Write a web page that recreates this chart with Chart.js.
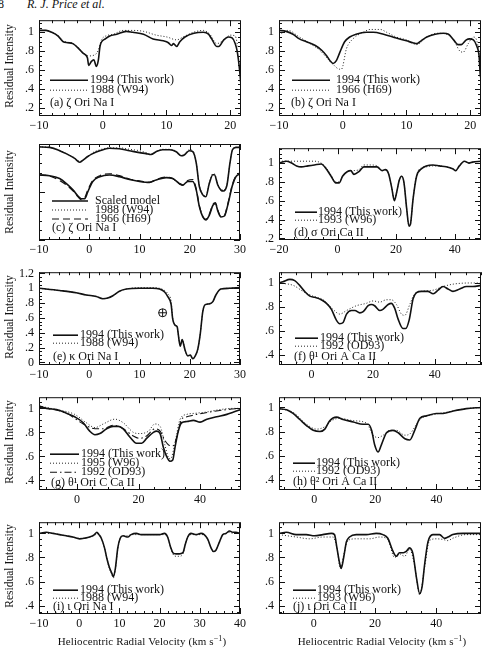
<!DOCTYPE html>
<html>
<head>
<meta charset="utf-8">
<script src="https://cdn.jsdelivr.net/npm/chart.js@4.4.0/dist/chart.umd.min.js"></script>
<style>
  body { margin: 0; width: 486px; height: 649px; overflow: hidden; position: relative; background: #fff;
         font-family: "Liberation Serif", serif; color: #111; }
  canvas { position: absolute; }
  .ytitle { position: absolute; width: 120px; height: 14px; line-height: 14px; font-size: 11.5px;
            text-align: center; white-space: nowrap; transform: rotate(-90deg); }
  .xtitle { position: absolute; width: 220px; height: 14px; line-height: 14px; font-size: 11px;
            text-align: center; white-space: nowrap; letter-spacing: 0.1px; }
  .xtitle sup { font-size: 8px; vertical-align: 4px; line-height: 0; }
  .hdr { position: absolute; top: -3px; font-size: 12px; line-height: 14px; white-space: nowrap; }
</style>
</head>
<body>
<div class="hdr" style="left:-8px">68</div>
<div class="hdr" style="left:27px"><i>R. J. Price et al.</i></div>
<script>
// ---- tick labels ----
const xTicksA = [-10, 0, 10, 20];
const xTicksC = [-10, 0, 10, 20, 30];
const xTicksD = [-20, 0, 20, 40];
const xTicksF = [0, 20, 40];
const xTicksI = [-10, 0, 10, 20, 30, 40];
const yTicksA = [0.2, 0.4, 0.6, 0.8, 1];
const yTicksE = [0, 0.2, 0.4, 0.6, 0.8, 1, 1.2];
const yTicksF = [0.4, 0.6, 0.8, 1];

// ---- (a) zeta Ori Na I ----
const velA94 = [-10.1,-8.9,-8.0,-7.0,-6.2,-5.5,-4.7,-3.8,-3.1,-2.4,-2.2,-1.8,-1.4,-1.0,-0.7,-0.4,0.4,1.1,2.2,3.7,4.7,6.4,7.9,9.5,10.3,10.8,11.1,11.6,12.1,12.9,14.3,15.8,16.6,17.1,17.9,18.2,19.0,19.7,20.3,20.8,21.1,21.4,21.7];
const intA94 = [1.02,1.02,1.0,0.96,0.90,0.89,0.88,0.83,0.78,0.73,0.65,0.69,0.71,0.64,0.70,0.86,0.93,0.96,0.98,1.01,1.0,0.98,0.93,0.91,0.89,0.86,0.88,0.85,0.90,0.95,0.99,1.0,0.98,0.93,0.85,0.85,0.92,0.95,0.94,0.88,0.80,0.65,0.44];
const velA88 = [-10.1,-8.9,-8.0,-7.0,-6.2,-5.5,-4.7,-3.8,-3.1,-2.3,-1.3,-0.7,-0.2,0.45,1.7,3.2,4.7,6.4,8.4,10.1,11.6,12.6,14.2,15.8,16.8,17.9,19.0,20.0,20.8,21.2];
const intA88 = [1.02,1.02,1.0,0.965,0.91,0.895,0.885,0.835,0.79,0.75,0.76,0.81,0.92,0.96,0.98,1.02,1.02,1.01,0.97,0.95,0.92,0.95,1.0,1.02,0.98,0.88,0.92,0.97,0.96,0.85];

// ---- (b) zeta Ori Na I vs H69 ----
const velB94 = [-10.0,-8.9,-7.8,-6.8,-5.7,-4.3,-3.3,-2.5,-2.0,-1.5,-1.0,-0.5,0.3,1.1,2.1,3.7,4.8,6.4,8.4,10.0,11.0,11.6,12.3,13.2,14.5,15.8,16.6,17.4,18.1,18.6,19.4,19.9,20.5,21.0,21.4,21.6,21.9];
const intB94 = [1.02,1.01,0.98,0.93,0.9,0.86,0.81,0.75,0.70,0.67,0.70,0.78,0.90,0.95,0.98,1.0,1.0,0.98,0.94,0.91,0.89,0.88,0.91,0.95,0.98,0.99,0.98,0.92,0.87,0.87,0.92,0.93,0.92,0.86,0.75,0.54,0.49];
const velB66 = [-10.0,-8.6,-6.8,-5.1,-3.6,-2.5,-1.5,-0.5,-0.2,0.6,1.6,3.2,4.3,5.9,6.9,8.4,10.0,11.6,13.2,14.8,16.3,17.4,18.4,18.9,19.7,20.5,21.0,21.4,21.9];
const intB66 = [0.97,1.02,0.95,0.88,0.81,0.73,0.66,0.61,0.61,0.83,0.93,1.0,1.03,1.03,1.0,0.95,0.92,0.87,0.95,0.99,0.98,0.92,0.80,0.79,0.88,0.95,0.92,0.78,0.48];

// ---- (c) scaled model, two offset sets (arbitrary units) ----
const velCUp = [-10,-7.9,-5.9,-4.6,-2.9,-1.9,-1.3,-0.3,0.7,2.1,4,6,8,10,11.3,12.3,13.3,14.6,16,17.3,18.3,18.9,19.9,20.6,21.3,21.9,22.6,23.2,23.9,24.6,24.9,25.6,26.2,26.7,27.4,28,28.5,29.2,30];
const modelCUp = [0.97,0.965,0.93,0.90,0.85,0.81,0.83,0.87,0.90,0.93,0.955,0.95,0.93,0.91,0.90,0.89,0.92,0.94,0.94,0.92,0.877,0.885,0.93,0.92,0.80,0.56,0.47,0.45,0.59,0.68,0.68,0.57,0.52,0.51,0.57,0.80,0.94,0.965,0.965];
const w94CUp = [0.97,0.965,0.935,0.90,0.855,0.82,0.83,0.87,0.91,0.94,0.96,0.96,0.945,0.93,0.91,0.895,0.92,0.945,0.945,0.925,0.88,0.89,0.94,0.93,0.80,0.57,0.48,0.46,0.60,0.69,0.69,0.58,0.53,0.52,0.58,0.80,0.94,0.965,0.965];
const velCLow = [-10,-7.9,-5.9,-4.6,-3.2,-2.3,-1.6,-0.9,-0.3,0.7,2.1,4,6,8,10,12,13.3,15.3,16.6,17.9,18.6,19.6,20.6,21.3,21.9,22.6,23.2,23.9,24.6,25.1,25.6,26.2,26.9,27.5,28.5,29.2,30];
const modelCLow = [0.677,0.67,0.64,0.59,0.52,0.46,0.43,0.43,0.50,0.61,0.66,0.677,0.66,0.63,0.61,0.60,0.625,0.65,0.64,0.59,0.573,0.61,0.61,0.52,0.35,0.24,0.21,0.26,0.36,0.38,0.30,0.24,0.25,0.35,0.57,0.66,0.69];
const h69CLow = [0.68,0.665,0.62,0.575,0.51,0.455,0.42,0.44,0.52,0.62,0.67,0.69,0.67,0.635,0.615,0.60,0.63,0.655,0.64,0.585,0.57,0.62,0.63,0.53,0.36,0.245,0.215,0.27,0.37,0.39,0.31,0.245,0.255,0.36,0.58,0.67,0.70];

// ---- (d) sigma Ori Ca II ----
const velD94 = [-20,-17.4,-15.7,-14,-12.4,-10.1,-7.9,-5.6,-3.9,-2.2,-0.6,0.6,1.7,3.4,4.5,5.6,7.3,9,11.2,13.5,15.2,16.3,17.4,18.5,19.4,20.2,21.1,21.9,22.7,23.6,24.4,24.9,25.8,27,28.7,30.3,32.6,34.8,37.1,39.3,40.4,41.6,43.3,44.9,46.1,49];
const intD94 = [1.0,1.02,1.0,0.97,0.96,0.97,0.98,0.99,0.94,0.86,0.79,0.79,0.86,0.91,0.92,0.88,0.91,0.96,0.96,0.96,0.92,0.93,0.89,0.74,0.60,0.69,0.82,0.86,0.79,0.52,0.33,0.35,0.62,0.86,0.94,0.97,0.98,0.97,0.96,0.94,0.92,0.97,1.02,1.0,1.01,1.02];
const velD93 = [-20,-16,-12,-8,-5.6,-3.9,-2.2,-0.6,0.6,1.7,3.4,5.6,7.3,9,11.2,13.5,15.2,16.3,17.4,18.5,19.4,20.2,21.1,21.9,22.7,23.6,24.4,24.9,25.8,27,28.7,30.3,32.6,34.8,37.1,39.3,40.4,41.6,43.3,44.9,46.1,49];
const intD93 = [1.02,1.02,1.02,1.02,1.0,0.95,0.87,0.80,0.80,0.86,0.91,0.92,0.93,0.98,0.98,0.97,0.92,0.93,0.89,0.74,0.61,0.69,0.82,0.86,0.79,0.52,0.33,0.35,0.62,0.87,0.95,0.96,0.97,0.97,0.96,0.94,0.92,0.97,1.02,1.0,1.01,1.02];

// ---- (e) kappa Ori Na I ----
const velE = [-10,-5.9,-2.6,-0.6,1.4,2.7,3.7,4.7,6,7.4,10,12.6,14,15,15.6,16.3,16.6,17.1,17.5,17.7,18.1,18.5,18.7,19.1,19.6,20.1,20.6,21.1,21.6,22.1,22.6,23.1,23.9,24.6,25.2,26.2,27.9,30];
const intE94 = [1.0,0.97,0.94,0.91,0.89,0.86,0.87,0.90,0.96,0.99,1.0,1.0,0.99,0.95,0.89,0.78,0.59,0.50,0.48,0.39,0.22,0.31,0.27,0.16,0.09,0.10,0.05,0.09,0.18,0.39,0.69,0.78,0.79,0.82,0.91,0.99,1.0,1.01];
const intE88 = [1.0,0.97,0.94,0.91,0.89,0.86,0.87,0.90,0.96,0.99,1.01,1.01,1.0,0.97,0.93,0.82,0.60,0.51,0.48,0.39,0.22,0.31,0.27,0.16,0.09,0.10,0.05,0.09,0.18,0.39,0.69,0.78,0.79,0.82,0.91,0.99,1.0,1.01];
const earthVel = [14.6];
const earthInt = [0.67];

// ---- (f) theta1 Ori A Ca II ----
const velF94 = [-10.5,-9.2,-7,-5.4,-3.8,-2.2,-0.5,1.1,3.2,4.9,6.5,8.1,9.2,10.3,11.4,13,14.1,15.7,16.8,18.4,19.5,20.5,22.2,23.2,24.9,25.9,27,28.1,29.7,30.6,31.7,33,34.1,35.7,37.8,39.5,41.1,42.7,44.3,45.9,48.1,50.3,52.4,55];
const intF94 = [1.0,1.01,1.03,1.02,0.98,0.93,0.89,0.88,0.86,0.83,0.78,0.69,0.66,0.67,0.74,0.77,0.77,0.75,0.76,0.81,0.82,0.81,0.77,0.78,0.82,0.83,0.79,0.70,0.62,0.62,0.69,0.87,0.92,0.93,0.93,0.91,0.94,0.97,0.95,0.93,0.95,0.97,0.97,0.98];
const velF92 = [-10.5,-5.9,-2.7,0.5,3.8,7,9.2,11.4,14.6,17.8,20,22.2,24.3,25.9,27.6,29.2,30.3,31.9,33.5,35.7,39.5,42.7,45.9,51.4,55];
const intF92 = [1.0,0.98,0.93,0.89,0.86,0.78,0.74,0.77,0.81,0.83,0.85,0.84,0.86,0.86,0.82,0.74,0.73,0.82,0.91,0.93,0.94,0.97,0.99,1.0,1.0];

// ---- (g) theta1 Ori C Ca II ----
const velG94 = [-12.4,-10,-6.7,-3.5,-0.8,2,4.1,5.8,7.4,9.6,11.7,13.4,15,17.2,19.3,21,22.6,24.8,25.9,27,28,29.1,30.2,31.1,31.8,32.9,34,35.7,37.8,40,42.2,45.4,48.7,50.9,53.3];
const intG94 = [1.02,1.0,0.99,0.96,0.93,0.88,0.81,0.78,0.79,0.83,0.85,0.85,0.83,0.76,0.71,0.71,0.75,0.80,0.81,0.79,0.68,0.60,0.56,0.57,0.67,0.81,0.88,0.89,0.90,0.885,0.91,0.93,0.95,0.97,0.99];
const velG95 = [-12.4,-6.7,-0.8,3,5.8,8.5,12.3,15,18.3,20.4,23.2,25.3,27,28.6,29.7,30.4,31.8,33.5,35.7,38.9,42.2,46.5,50.9,53.3];
const intG95 = [1.02,0.99,0.95,0.88,0.84,0.87,0.91,0.88,0.80,0.79,0.81,0.87,0.85,0.69,0.59,0.58,0.71,0.91,0.95,0.96,0.97,0.99,1.0,1.0];
const velG92 = [-12.4,-3.5,2,5.8,8.5,11.7,15,18.3,20.4,22.6,25.3,27,28.6,30.2,31.3,32.4,34,35.7,38.9,43.3,48.7,53.3];
const intG92 = [1.01,0.96,0.87,0.83,0.83,0.86,0.83,0.77,0.75,0.77,0.83,0.81,0.73,0.69,0.69,0.76,0.91,0.93,0.95,0.97,0.99,1.0];

// ---- (h) theta2 Ori A Ca II ----
const velH94 = [-11.5,-9,-6.9,-4.7,-2.5,-0.3,1.9,3.5,5.1,7.3,9.5,12.8,16,17.7,18.8,19.8,20.9,22,23.7,25.8,27.5,29.7,31.3,32.9,34.6,36.7,40,42.2,45.5,49.8,54.6];
const intH94 = [0.99,0.98,0.95,0.90,0.85,0.81,0.80,0.82,0.89,0.92,0.90,0.88,0.86,0.86,0.81,0.69,0.63,0.69,0.79,0.81,0.79,0.74,0.73,0.81,0.91,0.93,0.95,0.95,0.97,0.99,1.0];
const velH92 = [-11.5,-6.9,-2.5,0.8,3.5,5.7,8.4,12.8,17.1,19.3,20.9,22.6,24.8,26.9,29.7,31.3,33.5,35.1,38.9,43.3,49.8,54.6];
const intH92 = [0.99,0.96,0.86,0.82,0.84,0.89,0.91,0.89,0.87,0.77,0.75,0.77,0.81,0.81,0.77,0.78,0.86,0.91,0.94,0.96,0.99,1.0];

// ---- (i) iota Ori Na I ----
const velI = [-10,-8.2,-6.5,-4.9,-3.2,-1.6,0.1,1.3,2.6,3.8,4.4,4.9,5.5,6.3,6.9,7.5,8.1,8.5,9,9.6,10.2,10.9,12.1,12.9,14.2,15.4,16.7,18.3,20,21.2,22,22.7,23.3,24.1,24.9,25.8,26.4,27,27.8,29.1,30.3,31.1,32,32.8,33.4,34,34.9,35.7,36.5,37.4,38.2,39,40];
const intI94 = [1.0,1.01,1.0,0.99,0.98,0.97,0.955,0.96,0.97,0.99,1.01,0.99,0.96,0.88,0.79,0.72,0.67,0.64,0.71,0.88,0.96,0.98,0.97,0.99,1.0,0.99,0.99,0.99,0.99,1.0,0.97,0.89,0.84,0.83,0.83,0.84,0.91,0.97,1.0,0.99,1.0,0.99,0.95,0.88,0.85,0.86,0.93,0.99,1.0,1.02,1.01,1.01,1.0];
const intI88 = [1.0,1.0,1.0,0.99,0.98,0.97,0.96,0.96,0.97,0.98,1.0,0.99,0.96,0.88,0.79,0.71,0.66,0.63,0.70,0.87,0.96,0.98,0.98,0.99,0.99,0.99,0.99,0.99,0.99,0.99,0.97,0.89,0.83,0.81,0.81,0.83,0.91,0.97,0.99,0.99,0.99,0.99,0.95,0.88,0.85,0.86,0.93,0.99,1.0,1.01,1.0,1.0,1.0];

// ---- (j) iota Ori Ca II ----
const velJ94 = [-11.3,-8.9,-5.7,-2.4,0.3,3,5.8,6.8,7.6,8.5,9,9.8,10.7,11.7,13.9,17.2,20.4,22.6,24.2,25.9,27,28,29.3,30.2,31.3,32.4,33.5,34.6,35.4,36.2,37.3,38.9,41.1,42.7,43.8,45.4,48.7,52,54.6];
const intJ94 = [1.0,1.01,0.99,0.99,0.98,0.99,1.0,0.99,0.88,0.75,0.71,0.80,0.93,0.97,0.99,0.99,1.0,0.99,0.96,0.85,0.81,0.84,0.84,0.85,0.88,0.83,0.64,0.50,0.56,0.74,0.93,0.99,0.99,0.96,0.97,0.99,1.0,1.0,1.0];
const velJ93 = [-11.3,-5.7,-1.3,3,6.3,7.6,8.7,9.8,11.1,13.9,18.3,21.5,24.2,26.4,28,29.7,31.3,32.9,34.6,36.2,37.8,40,42.2,43.8,45.4,49.8,54.6];
const intJ93 = [0.99,0.97,0.955,0.97,0.97,0.88,0.71,0.82,0.94,0.955,0.955,0.97,0.95,0.80,0.83,0.81,0.87,0.74,0.49,0.72,0.94,0.955,0.95,0.94,0.96,0.99,0.99];

// ---- layout ----
const CW = 202, PADL = 36, PADT = 8, PADR = 8, PADB = 22;
const colLeft = [39, 279];
const rowTop = [16, 144, 268, 393, 518];
const rowH = [100, 96, 97, 97, 96];

const lineStyles = {
  solid:   { dash: [], width: 1.6, color: '#111' },
  dot:     { dash: [1, 2], width: 1, color: '#222' },
  dash:    { dash: [7, 4], width: 1.2, color: '#111' },
  dashdot: { dash: [7, 3, 1.5, 3], width: 1.1, color: '#111' },
};

const panels = [
  { col: 0, row: 0, x: [-10, 21.7], y: [0.115, 1.128], xt: xTicksA, yt: yTicksA, tk: [10, 2, 0.2, 0.05],
    series: [{ vel: velA94, val: intA94, style: 'solid' }, { vel: velA88, val: intA88, style: 'dot' }],
    key: { x0: 11, x1: 49, tx: 51, rows: [{ y: 60, style: 'solid', text: '1994 (This work)' }, { y: 70, style: 'dot', text: '1988 (W94)' }], lx: 11, ly: 83, label: '(a) ζ Ori Na I' } },
  { col: 1, row: 0, x: [-10, 21.7], y: [0.115, 1.128], xt: xTicksA, yt: yTicksA, tk: [10, 2, 0.2, 0.05],
    series: [{ vel: velB94, val: intB94, style: 'solid' }, { vel: velB66, val: intB66, style: 'dot' }],
    key: { x0: 13, x1: 51, tx: 57, rows: [{ y: 60, style: 'solid', text: '1994 (This work)' }, { y: 70, style: 'dot', text: '1966 (H69)' }], lx: 12, ly: 83, label: '(b) ζ Ori Na I' } },
  { col: 0, row: 1, x: [-10, 30], y: [0, 1], xt: xTicksC, yt: [], tk: [10, 2, 0.5, 0.1],
    series: [{ vel: velCUp, val: modelCUp, style: 'solid' }, { vel: velCUp, val: w94CUp, style: 'dot' },
             { vel: velCLow, val: modelCLow, style: 'solid' }, { vel: velCLow, val: h69CLow, style: 'dash' }],
    key: { x0: 13, x1: 49, tx: 56, rows: [{ y: 57, style: 'solid', text: 'Scaled model' }, { y: 66, style: 'dot', text: '1988 (W94)' }, { y: 75, style: 'dash', text: '1966 (H69)' }], lx: 13, ly: 84, label: '(c) ζ Ori Na I' } },
  { col: 1, row: 1, x: [-20, 49], y: [0.183, 1.158], xt: xTicksD, yt: yTicksA, tk: [20, 5, 0.2, 0.05],
    series: [{ vel: velD94, val: intD94, style: 'solid' }, { vel: velD93, val: intD93, style: 'dot' }],
    key: { x0: 16, x1: 38, tx: 39, rows: [{ y: 64, style: 'solid', text: '1994 (This work)' }, { y: 72, style: 'dot', text: '1993 (W96)' }], lx: 15, ly: 85, label: '(d) σ Ori Ca II' } },
  { col: 0, row: 2, x: [-10, 30], y: [-0.034, 1.217], xt: xTicksC, yt: yTicksE, tk: [10, 2, 0.2, 0.05],
    series: [{ vel: velE, val: intE94, style: 'solid' }, { vel: velE, val: intE88, style: 'dot' }],
    marker: { vel: earthVel, val: earthInt },
    key: { x0: 14, x1: 39, tx: 41, rows: [{ y: 63, style: 'solid', text: '1994 (This work)' }, { y: 71, style: 'dot', text: '1988 (W94)' }], lx: 14, ly: 85, label: '(e) κ Ori Na I' } },
  { col: 1, row: 2, x: [-10.5, 55], y: [0.315, 1.09], xt: xTicksF, yt: yTicksF, tk: [20, 5, 0.2, 0.05],
    series: [{ vel: velF94, val: intF94, style: 'solid' }, { vel: velF92, val: intF92, style: 'dot' }],
    key: { x0: 16, x1: 39, tx: 41, rows: [{ y: 66, style: 'solid', text: '1994 (This work)' }, { y: 74, style: 'dot', text: '1992 (OD93)' }], lx: 15, ly: 85, label: '(f) θ¹ Ori A Ca II' } },
  { col: 0, row: 3, x: [-12.4, 53.3], y: [0.32, 1.093], xt: xTicksF, yt: yTicksF, tk: [20, 5, 0.2, 0.05],
    series: [{ vel: velG94, val: intG94, style: 'solid' }, { vel: velG95, val: intG95, style: 'dot' }, { vel: velG92, val: intG92, style: 'dashdot' }],
    key: { x0: 11, x1: 40, tx: 42, rows: [{ y: 57, style: 'solid', text: '1994 (This work)' }, { y: 66, style: 'dot', text: '1995 (W96)' }, { y: 75, style: 'dashdot', text: '1992 (OD93)' }], lx: 12, ly: 86, label: '(g) θ¹ Ori C Ca II' } },
  { col: 1, row: 3, x: [-11.5, 54.6], y: [0.315, 1.085], xt: xTicksF, yt: yTicksF, tk: [20, 5, 0.2, 0.05],
    series: [{ vel: velH94, val: intH94, style: 'solid' }, { vel: velH92, val: intH92, style: 'dot' }],
    key: { x0: 14, x1: 36, tx: 37, rows: [{ y: 66, style: 'solid', text: '1994 (This work)' }, { y: 74, style: 'dot', text: '1992 (OD93)' }], lx: 14, ly: 85, label: '(h) θ² Ori A Ca II' } },
  { col: 0, row: 4, x: [-10, 40], y: [0.331, 1.093], xt: xTicksI, yt: yTicksF, tk: [10, 2, 0.2, 0.05],
    series: [{ vel: velI, val: intI94, style: 'solid' }, { vel: velI, val: intI88, style: 'dot' }],
    key: { x0: 14, x1: 39, tx: 41, rows: [{ y: 68, style: 'solid', text: '1994 (This work)' }, { y: 76, style: 'dot', text: '1988 (W94)' }], lx: 14, ly: 85, label: '(i) ι Ori Na I' } },
  { col: 1, row: 4, x: [-11.3, 54.6], y: [0.331, 1.093], xt: xTicksF, yt: yTicksF, tk: [20, 5, 0.2, 0.05],
    series: [{ vel: velJ94, val: intJ94, style: 'solid' }, { vel: velJ93, val: intJ93, style: 'dot' }],
    key: { x0: 14, x1: 37, tx: 38, rows: [{ y: 68, style: 'solid', text: '1994 (This work)' }, { y: 76, style: 'dot', text: '1993 (W96)' }], lx: 14, ly: 85, label: '(j) ι Ori Ca II' } },
];

Chart.defaults.font.family = '"Liberation Serif", serif';
Chart.defaults.font.size = 12;
Chart.defaults.color = '#111';

// box + inward ticks on all four sides
const framePlugin = {
  id: 'frame',
  afterDatasetsDraw(chart, args, opts) {
    const { ctx, chartArea: a, scales } = chart;
    const [xMaj, xMin, yMaj, yMin] = opts.tk;
    ctx.save();
    ctx.strokeStyle = '#111';
    ctx.lineWidth = 1;
    ctx.setLineDash([]);
    ctx.strokeRect(a.left + 0.5, a.top + 0.5, a.right - a.left - 1, a.bottom - a.top - 1);
    const seg = (x1, y1, x2, y2) => { ctx.beginPath(); ctx.moveTo(x1, y1); ctx.lineTo(x2, y2); ctx.stroke(); };
    const isMajor = (v, maj) => Math.abs(v / maj - Math.round(v / maj)) < 1e-6;
    const sx = scales.x, sy = scales.y;
    for (let i = Math.ceil(sx.min / xMin - 1e-6); i * xMin <= sx.max + 1e-9; i++) {
      const v = i * xMin;
      const len = isMajor(v, xMaj) ? 6 : 3;
      const p = Math.round(sx.getPixelForValue(v)) + 0.5;
      seg(p, a.bottom, p, a.bottom - len);
      seg(p, a.top, p, a.top + len);
    }
    for (let i = Math.ceil(sy.min / yMin - 1e-6); i * yMin <= sy.max + 1e-9; i++) {
      const v = i * yMin;
      const len = isMajor(v, yMaj) ? 6 : 3;
      const p = Math.round(sy.getPixelForValue(v)) + 0.5;
      seg(a.left, p, a.left + len, p);
      seg(a.right, p, a.right - len, p);
    }
    ctx.restore();
  }
};

// legend samples and panel label inside the box
const keyPlugin = {
  id: 'key',
  afterDraw(chart, args, k) {
    if (!k || !k.rows) return;
    const { ctx, chartArea: a } = chart;
    ctx.save();
    ctx.font = '12px "Liberation Serif", serif';
    ctx.fillStyle = '#111';
    ctx.textBaseline = 'middle';
    k.rows.forEach(r => {
      const st = lineStyles[r.style];
      ctx.setLineDash(st.dash);
      ctx.lineWidth = st.width;
      ctx.strokeStyle = st.color;
      ctx.beginPath();
      ctx.moveTo(a.left + k.x0, a.top + r.y);
      ctx.lineTo(a.left + k.x1, a.top + r.y);
      ctx.stroke();
      ctx.fillText(r.text, a.left + k.tx, a.top + r.y);
    });
    ctx.setLineDash([]);
    ctx.fillText(k.label, a.left + k.lx, a.top + k.ly);
    ctx.restore();
  }
};

Chart.register(framePlugin, keyPlugin);

const fmtX = v => String(v).replace('-', '\u2212');
const fmtY = v => (v === 0 ? '0' : String(Math.round(v * 10) / 10).replace(/^0\./, '.'));

function makeChart(p) {
  const left = colLeft[p.col], top = rowTop[p.row], h = rowH[p.row];
  const W = CW + PADL + PADR, H = h + PADT + PADB;
  const cv = document.createElement('canvas');
  cv.width = W; cv.height = H;
  cv.style.left = (left - PADL) + 'px';
  cv.style.top = (top - PADT) + 'px';
  cv.style.width = W + 'px';
  cv.style.height = H + 'px';
  document.body.appendChild(cv);

  const datasets = p.series.map(s => {
    const st = lineStyles[s.style];
    return {
      data: s.vel.map((v, i) => ({ x: v, y: s.val[i] })),
      borderColor: st.color, borderWidth: st.width, borderDash: st.dash,
      pointRadius: 0, cubicInterpolationMode: 'monotone', fill: false,
    };
  });
  if (p.marker) {
    ['circle', 'cross'].forEach(ps => datasets.push({
      data: p.marker.vel.map((v, i) => ({ x: v, y: p.marker.val[i] })),
      showLine: false, pointStyle: ps, pointRadius: 4, pointBorderWidth: 1,
      pointBorderColor: '#111', pointBackgroundColor: 'rgba(0,0,0,0)',
    }));
  }

  new Chart(cv, {
    type: 'line',
    data: { datasets },
    options: {
      responsive: false,
      animation: false,
      layout: { padding: { top: PADT, right: PADR, left: 0, bottom: 0 } },
      plugins: {
        legend: { display: false },
        tooltip: { enabled: false },
        frame: { tk: p.tk },
        key: p.key,
      },
      scales: {
        x: {
          type: 'linear', min: p.x[0], max: p.x[1],
          afterBuildTicks: s => { s.ticks = p.xt.map(v => ({ value: v })); },
          afterFit: s => { s.height = PADB; },
          grid: { display: false, drawTicks: false },
          border: { display: false },
          ticks: { autoSkip: false, maxRotation: 0, padding: 3, callback: v => fmtX(v) },
        },
        y: {
          type: 'linear', min: p.y[0], max: p.y[1],
          afterBuildTicks: s => { s.ticks = p.yt.map(v => ({ value: v })); },
          afterFit: s => { s.width = PADL; },
          grid: { display: false, drawTicks: false },
          border: { display: false },
          ticks: { display: p.yt.length > 0, autoSkip: false, padding: 5, callback: v => fmtY(v) },
        },
      },
    },
  });
}

panels.forEach(makeChart);

// axis titles
rowTop.forEach((t, r) => {
  const d = document.createElement('div');
  d.className = 'ytitle';
  d.textContent = 'Residual Intensity';
  d.style.left = (8.5 - 60) + 'px';
  d.style.top = (t + rowH[r] / 2 - 7) + 'px';
  document.body.appendChild(d);
});
colLeft.forEach(l => {
  const d = document.createElement('div');
  d.className = 'xtitle';
  d.innerHTML = 'Heliocentric Radial Velocity (km s<sup>\u22121</sup>)';
  d.style.left = (l + CW / 2 - 108) + 'px';
  d.style.top = '634px';
  document.body.appendChild(d);
});
</script>
</body>
</html>
